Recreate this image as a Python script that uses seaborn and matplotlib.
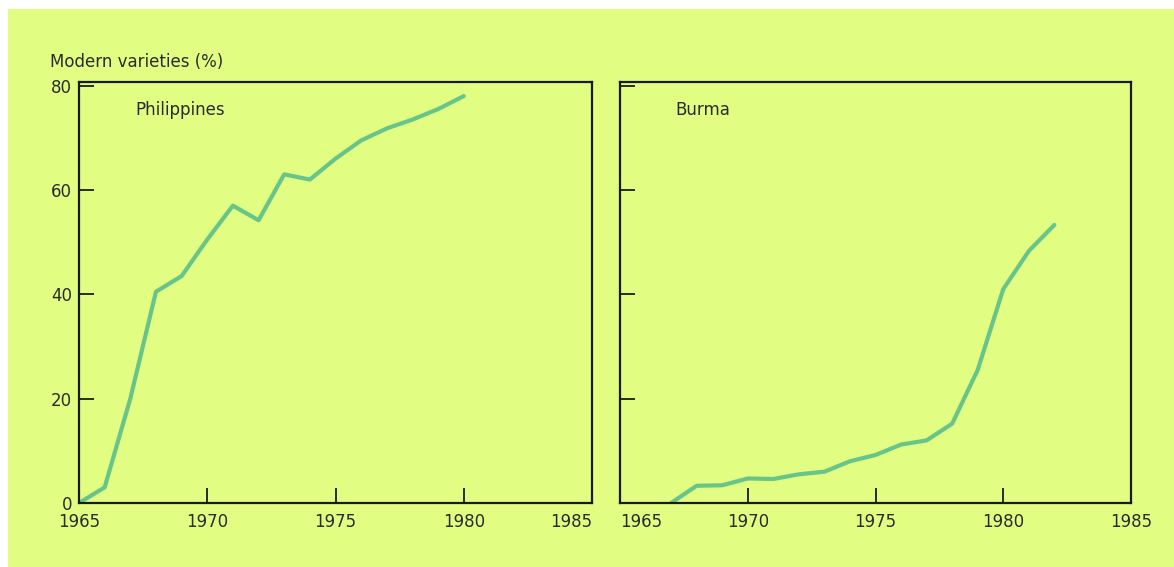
import matplotlib
matplotlib.use('Agg')
from matplotlib import pyplot as plt
from matplotlib.patches import Rectangle
import pandas as pd
import seaborn as sns

# modern rice varieties, share of area (%)
phil_years = list(range(1965, 1981))
phil_values = [0, 3, 20, 40.5, 43.5, 50.5, 57, 54.2, 63, 62, 66, 69.5, 71.8,
               73.5, 75.5, 78]

burma_years = list(range(1967, 1983))
burma_values = [0, 3.3, 3.4, 4.7, 4.6, 5.5, 6, 8, 9.2, 11.2, 12, 15.2, 25.5,
                41, 48.3, 53.3]

panel_names = ['Philippines', 'Burma']
x_ticks = [1965, 1970, 1975, 1980, 1985]
y_ticks = [0, 20, 40, 60, 80]
y_label = 'Modern varieties (%)'

bg = '#E1FE82'
line_col = '#68C58A'
ink = '#2b2b2b'

sns.set_style('ticks')
plt.rcParams['font.family'] = ['DejaVu Sans']

df = pd.concat([
    pd.DataFrame({'year': phil_years, 'pct': phil_values,
                  'country': panel_names[0]}),
    pd.DataFrame({'year': burma_years, 'pct': burma_values,
                  'country': panel_names[1]}),
])

fig = plt.figure(figsize=(11.74, 5.67), dpi=100, facecolor='white')
# green page with a thin white margin top and left
fig.patches.append(Rectangle((8 / 1174, 0), 1 - 8 / 1174, 1 - 9 / 567,
                             transform=fig.transFigure, facecolor=bg,
                             edgecolor='none', zorder=-10))

ax_l = fig.add_axes([79 / 1174, 64 / 567, 513 / 1174, 421 / 567])
ax_r = fig.add_axes([620 / 1174, 64 / 567, 511 / 1174, 421 / 567])

for ax, name in zip([ax_l, ax_r], panel_names):
    sub = df[df['country'] == name]
    sns.lineplot(data=sub, x='year', y='pct', ax=ax, color=line_col,
                 linewidth=3, legend=False)
    ax.set_facecolor(bg)
    ax.set_xlim(1965, 1985)
    ax.set_ylim(0, 80.7)
    ax.set_xticks(x_ticks)
    ax.set_yticks(y_ticks)
    ax.set_xlabel('')
    ax.set_ylabel('')
    for s in ax.spines.values():
        s.set_visible(True)
        s.set_color('#1a1a1a')
        s.set_linewidth(1.6)
    ax.tick_params(direction='in', length=11, width=1.3, color='#1a1a1a',
                   labelsize=12, labelcolor=ink)
    ax.tick_params(axis='x', pad=7)
    ax.tick_params(axis='y', pad=5)
    ax.text(0.109, 0.933, name, transform=ax.transAxes, fontsize=12,
            color=ink, ha='left', va='center')
    ax.grid(False)

ax_r.set_yticklabels([])
# keep 1985 | 1965 apart where the two panels meet
ax_l.xaxis.get_major_ticks()[-1].label1.set_horizontalalignment('right')
ax_r.xaxis.get_major_ticks()[0].label1.set_horizontalalignment('left')

ax_l.text(-0.0565, 1.0475, y_label, transform=ax_l.transAxes, fontsize=12,
          color=ink, ha='left', va='center')

plt.savefig('out.png', dpi=100, facecolor=fig.get_facecolor())
plt.close(fig)
